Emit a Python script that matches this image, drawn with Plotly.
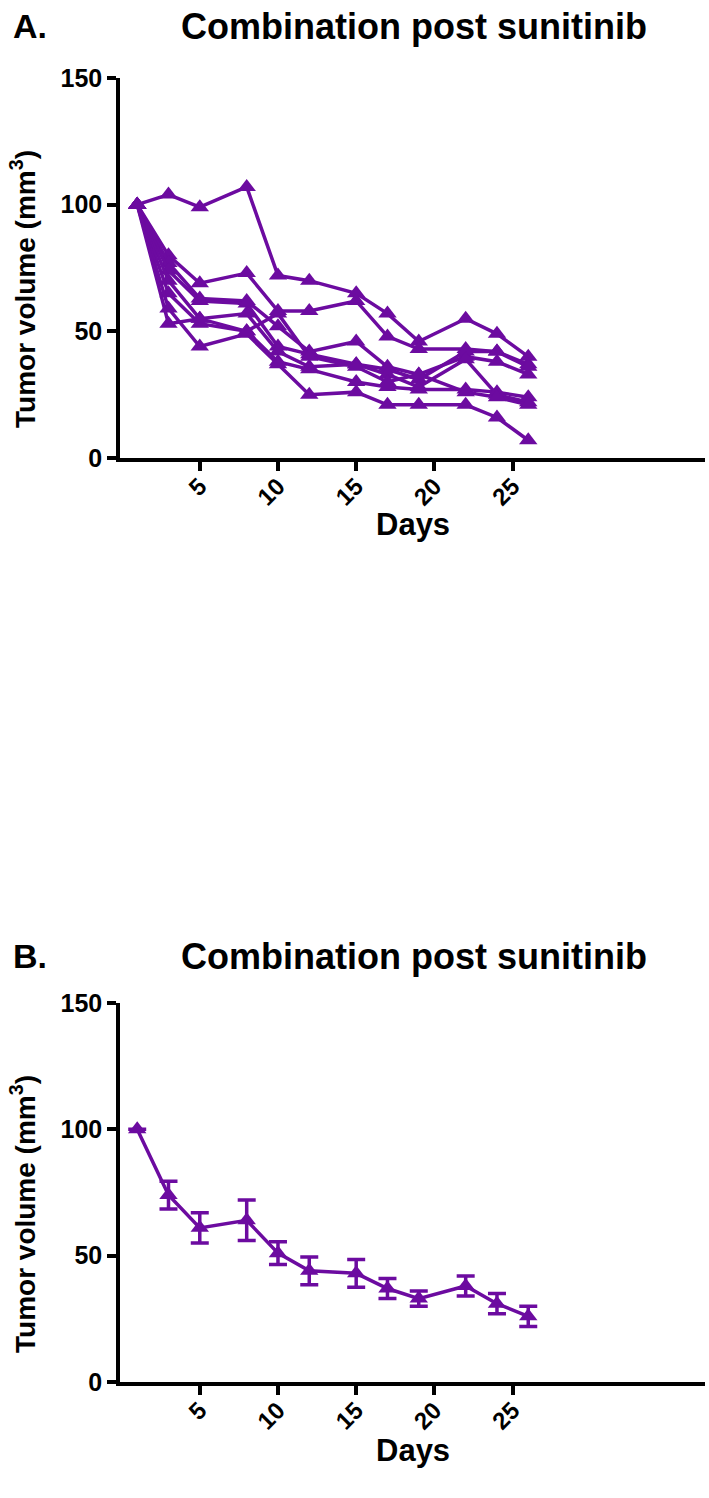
import plotly.graph_objects as go

days = [1, 3, 5, 8, 10, 12, 15, 17, 19, 22, 24, 26]

# Panel A: individual tumours
mouse_1 = [100, 104, 99, 107, 72, 70, 65, 57, 46, 55, 49, 40]
mouse_2 = [100, 80, 69, 73, 58, 58, 62, 48, 43, 43, 42, 37]
mouse_3 = [100, 77, 63, 62, 52, 42, 46, 36, 33, 40, 38, 33]
mouse_4 = [100, 74, 62, 61, 44, 41, 37, 35, 31, 42, 42, 36]
mouse_5 = [100, 70, 55, 57, 42, 36, 37, 33, 28, 39, 25, 22]
mouse_6 = [100, 65, 53, 50, 38, 35, 30, 28, 27, 27, 26, 24]
mouse_7 = [100, 59, 44, 49, 37, 25, 26, 21, 21, 21, 16, 7]
mouse_8 = [100, 53, 55, 50, 57, 40, 36, 30, 33, 26, 24, 21]
mice = [mouse_1, mouse_2, mouse_3, mouse_4, mouse_5, mouse_6, mouse_7, mouse_8]

# Panel B: mean +/- SEM
mean_vol = [100, 74, 61, 64, 51, 44, 43, 37, 33, 38, 31, 26]
sem_vol = [0, 5.5, 6, 8, 4.5, 5.5, 5.5, 4, 3, 4, 4, 4]

y_ticks = [0, 50, 100, 150]
x_ticks = [5, 10, 15, 20, 25]

PURPLE = "#6C0BA0"
FONT = "Liberation Sans, Arial, sans-serif"

fig = go.Figure()

for m in mice:
    fig.add_trace(go.Scatter(
        x=days, y=m, mode="lines+markers",
        line=dict(color=PURPLE, width=3.5),
        marker=dict(symbol="triangle-up", size=16, color=PURPLE),
        xaxis="x", yaxis="y", showlegend=False, cliponaxis=False))

fig.add_trace(go.Scatter(
    x=days, y=mean_vol, mode="lines+markers",
    line=dict(color=PURPLE, width=3.5),
    marker=dict(symbol="triangle-up", size=16, color=PURPLE),
    error_y=dict(type="data", array=sem_vol, color=PURPLE, thickness=3.5, width=9),
    xaxis="x2", yaxis="y2", showlegend=False, cliponaxis=False))

# geometry helpers (pixel -> paper)
T, B, L, R = 78, 116, 120, 4
H, W = 1498, 709
PH = H - T - B
PW = W - L - R
def py(p):
    return (H - B - p) / PH
def px(p):
    return (p - L) / PW

axis_common = dict(showline=True, linecolor="black", linewidth=3.5, ticks="outside",
                   ticklen=9, tickwidth=3.5, tickcolor="black", showgrid=False,
                   zeroline=False, automargin=False)
ytick_font = dict(family=FONT, size=25, color="black", weight="bold")
xtick_font = dict(family=FONT, size=24, color="black", weight="bold")

xr = [-0.1, 37.3]
fig.update_layout(
    width=W, height=H,
    margin=dict(l=L, r=R, t=T, b=B),
    plot_bgcolor="white", paper_bgcolor="white",
    xaxis=dict(domain=[0, 1], anchor="y", range=xr, tickvals=x_ticks, tickangle=-45,
               tickfont=xtick_font, ticklabelstandoff=-8, **axis_common),
    yaxis=dict(domain=[py(458), py(78)], anchor="x", range=[0, 150], tickvals=y_ticks,
               tickfont=ytick_font, **axis_common),
    xaxis2=dict(domain=[0, 1], anchor="y2", range=xr, tickvals=x_ticks, tickangle=-45,
                tickfont=xtick_font, ticklabelstandoff=-8, **axis_common),
    yaxis2=dict(domain=[py(1382), py(1003)], anchor="x2", range=[0, 150], tickvals=y_ticks,
                tickfont=ytick_font, **axis_common),
)

ann = []
for panel, ytitle, yplot, ydays in [("A.", 26, 289, 524), ("B.", 956, 1214, 1450)]:
    ann.append(dict(text="<b>" + panel + "</b>", x=px(11), y=py(ytitle), xref="paper", yref="paper",
                    xanchor="left", yanchor="middle", showarrow=False,
                    font=dict(family=FONT, size=34, color="black")))
    ann.append(dict(text="<b>Combination post sunitinib</b>", x=px(414), y=py(ytitle), xref="paper", yref="paper",
                    xanchor="center", yanchor="middle", showarrow=False,
                    font=dict(family=FONT, size=36, color="black")))
    ann.append(dict(text="<b>Tumor volume (mm<sup>3</sup>)</b>", x=px(23), y=py(yplot), xref="paper", yref="paper",
                    xanchor="center", yanchor="middle", showarrow=False, textangle=-90,
                    font=dict(family=FONT, size=28, color="black")))
    ann.append(dict(text="<b>Days</b>", x=px(413), y=py(ydays), xref="paper", yref="paper",
                    xanchor="center", yanchor="middle", showarrow=False,
                    font=dict(family=FONT, size=31, color="black")))
fig.update_layout(annotations=ann)

fig.write_html("out.html", config={"displayModeBar": False},
               post_script="document.body.style.margin='0';document.body.style.overflow='hidden';")
